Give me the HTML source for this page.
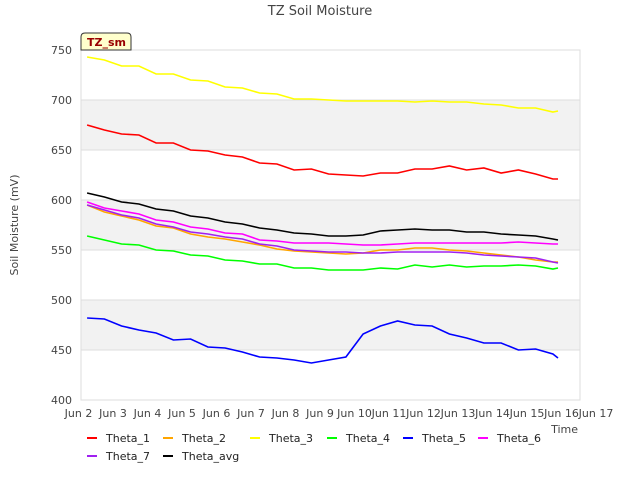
<!DOCTYPE html>
<html><head><meta charset="utf-8"><style>
body{margin:0;background:#fff;font-family:"Liberation Sans","DejaVu Sans",sans-serif;}
svg text{font-family:"DejaVu Sans","Liberation Sans",sans-serif;}
</style></head><body>
<svg id="chart" width="640" height="480" xmlns="http://www.w3.org/2000/svg">
<rect width="640" height="480" fill="#fff"/>
<g id="bands"></g><g id="grid"></g><g id="series"></g><g id="axes"></g><g id="legend"></g>
<text x="320" y="15" text-anchor="middle" font-size="13" fill="#444">TZ Soil Moisture</text>
<text x="18" y="225" text-anchor="middle" font-size="11" fill="#444" transform="rotate(-90 18 225)">Soil Moisture (mV)</text>
<text x="578" y="433" text-anchor="end" font-size="11" fill="#444">Time</text>
<g><path d="M81,50 L81,37 Q81,33 85,33 L127,33 Q131,33 131,37 L131,50 Z" fill="#ffffcc" stroke="#333" stroke-width="1"/>
<text x="87" y="46" font-size="11" font-weight="bold" fill="#990000">TZ_sm</text></g>
</svg>
<script>
const times=[2.25,2.75,3.25,3.75,4.25,4.75,5.25,5.75,6.25,6.75,7.25,7.75,8.25,8.75,9.25,9.75,10.25,10.75,11.25,11.75,12.25,12.75,13.25,13.75,14.25,14.75,15.25,15.75,15.9];
const theta1=[675,670,666,665,657,657,650,649,645,643,637,636,630,631,626,625,624,627,627,631,631,634,630,632,627,630,626,621,621];
const theta2=[595,588,584,580,574,572,566,563,561,558,555,551,549,548,547,546,547,550,550,552,552,550,549,547,545,543,540,538,538];
const theta3=[743,740,734,734,726,726,720,719,713,712,707,706,701,701,700,699,699,699,699,698,699,698,698,696,695,692,692,688,689];
const theta4=[564,560,556,555,550,549,545,544,540,539,536,536,532,532,530,530,530,532,531,535,533,535,533,534,534,535,534,531,532];
const theta5=[482,481,474,470,467,460,461,453,452,448,443,442,440,437,440,443,466,474,479,475,474,466,462,457,457,450,451,446,442];
const theta6=[598,592,589,586,580,578,573,571,567,566,560,559,557,557,557,556,555,555,556,557,557,557,557,557,557,558,557,556,556];
const theta7=[595,590,585,582,576,573,568,566,563,561,556,554,550,549,548,548,547,547,548,548,548,548,547,545,544,543,542,538,537];
const thetaAvg=[607,603,598,596,591,589,584,582,578,576,572,570,567,566,564,564,565,569,570,571,570,570,568,568,566,565,564,561,560];
const xTicks=[2,3,4,5,6,7,8,9,10,11,12,13,14,15,16,17];
const yTicks=[400,450,500,550,600,650,700,750];
const names=["Theta_1","Theta_2","Theta_3","Theta_4","Theta_5","Theta_6","Theta_7","Theta_avg"];
const colors=["#ff0000","#ffa500","#ffff00","#00ff00","#0000ff","#ff00ff","#a020f0","#000000"];
const allSeries=[theta1,theta2,theta3,theta4,theta5,theta6,theta7,thetaAvg];
const L=81,R=580,T=50,B=400;
const X=d=>78.5+(d-2)*34.5;
const Y=v=>B-(v-400)*(B-T)/350;
const NS="http://www.w3.org/2000/svg";
function mk(tag,attrs,parent){const e=document.createElementNS(NS,tag);for(const k in attrs)e.setAttribute(k,attrs[k]);parent.appendChild(e);return e;}
const bands=document.getElementById('bands'),grid=document.getElementById('grid'),axes=document.getElementById('axes'),series=document.getElementById('series'),legend=document.getElementById('legend');
[[450,500],[550,600],[650,700]].forEach(b=>{const r=mk('rect',{x:L,y:Y(b[1]),width:R-L,height:Y(b[0])-Y(b[1]),fill:'#f2f2f2'},bands);

});
yTicks.forEach(v=>{const l=mk('line',{x1:L,x2:R,y1:Y(v),y2:Y(v),stroke:'#dddddd','stroke-width':1},grid);


const t=mk('text',{x:72,y:Y(v)+4,'text-anchor':'end','font-size':11,fill:'#444'},axes);t.textContent=v;

});
const frame=mk('rect',{x:L,y:T,width:R-L,height:B-T,fill:'none',stroke:'#dddddd'},axes);


xTicks.forEach(d=>{const t=mk('text',{x:X(d),y:417,'text-anchor':'middle','font-size':11,fill:'#444'},axes);t.textContent='Jun '+d;

});
allSeries.forEach((s,i)=>{const pts=s.map((v,j)=>X(times[j]).toFixed(1)+','+Y(v).toFixed(1)).join(' ');
const p=mk('polyline',{points:pts,fill:'none',stroke:colors[i],'stroke-width':1.6},series);

});
const lx=[87,163,250,327,403,478,87,163],ly=[442,442,442,442,442,442,460,460];
names.forEach((n,i)=>{const g=mk('g',{},legend);


mk('line',{x1:lx[i],x2:lx[i]+10,y1:ly[i]-4,y2:ly[i]-4,stroke:colors[i],'stroke-width':2},g);
const t=mk('text',{x:lx[i]+19,y:ly[i],'font-size':11,fill:'#222'},g);t.textContent=n;});
</script>
</body></html>
